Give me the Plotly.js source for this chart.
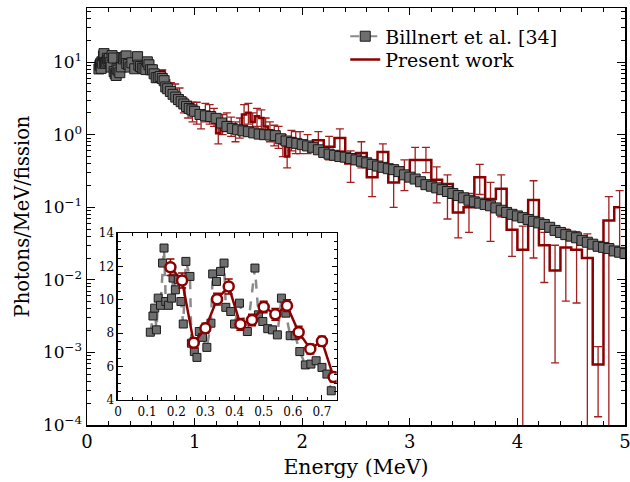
<!DOCTYPE html>
<html><head><meta charset="utf-8">
<script src="https://cdn.plot.ly/plotly-3.0.1.min.js"></script>
<style>html,body{margin:0;padding:0;background:#fff}</style>
</head><body>
<div id="chart" style="width:630px;height:482px"></div>
<script>
// ---- Billnert et al. [34] ----
var billLowX = [0.111,0.120,0.126,0.132,0.138,0.146,0.153,0.158,0.164,0.173,0.184,0.189,0.197,0.207,0.216,0.224,0.233,0.247,0.252,0.262,0.271,0.279,0.290,0.305,0.319,0.325,0.338,0.352,0.364,0.370,0.387,0.400,0.417,0.444,0.470,0.482,0.497,0.514,0.530,0.547,0.561,0.576,0.591,0.608,0.624,0.643,0.662,0.680,0.700,0.717,0.732];
var billLowY = [8.06,9.03,9.5,8.2,10.1,9.67,12.2,13.1,9.9,9.67,10.1,11.3,10.6,11.2,9.9,8.55,12.3,11.4,7.4,6.9,6.55,8.1,7.75,7.15,8.6,11.55,11.1,11.7,12.2,9.55,9.3,8.55,9.8,8.1,11.9,9.1,8.7,8.27,8.2,7.9,10.1,9.2,7.85,7.85,6.9,6.1,6.15,6.35,5.95,5.55,4.55];
var billHighX = [0.75,0.775,0.80,0.825,0.85,0.875,0.90,0.925,0.95,0.975,1.00,1.05,1.10,1.15,1.20,1.25,1.30,1.35,1.40,1.45,1.50,1.55,1.60,1.65,1.70,1.75,1.80,1.85,1.90,1.95,2.00,2.05,2.10,2.15,2.20,2.25,2.30,2.35,2.40,2.45,2.50,2.55,2.60,2.65,2.70,2.75,2.80,2.85,2.90,2.95,3.00,3.05,3.10,3.15,3.20,3.25,3.30,3.35,3.40,3.45,3.50,3.55,3.60,3.65,3.70,3.75,3.80,3.85,3.90,3.95,4.00,4.05,4.10,4.15,4.20,4.25,4.30,4.35,4.40,4.45,4.50,4.55,4.60,4.65,4.70,4.75,4.80,4.85,4.90,4.95,5.00];
var billHighY = [4.3,3.95,3.6,3.3,3.05,2.85,2.65,2.45,2.3,2.2,2.1,1.9,1.82,1.78,1.68,1.45,1.3,1.22,1.17,1.13,1.1,1.06,1.02,1.0,0.99,0.97,0.88,0.82,0.78,0.76,0.73,0.70,0.67,0.62,0.57,0.54,0.52,0.50,0.49,0.47,0.45,0.43,0.41,0.39,0.37,0.355,0.34,0.33,0.31,0.28,0.26,0.245,0.225,0.205,0.195,0.185,0.175,0.165,0.155,0.145,0.135,0.125,0.119,0.114,0.109,0.105,0.098,0.091,0.085,0.080,0.076,0.072,0.068,0.064,0.061,0.058,0.053,0.048,0.045,0.042,0.040,0.038,0.035,0.033,0.031,0.029,0.028,0.027,0.025,0.024,0.023];

// ---- Present work (bin centres, values, error-bar ends) ----
var presX = [0.18,0.22,0.26,0.30,0.34,0.38,0.42,0.46,0.50,0.54,0.58,0.62,0.66,0.70,0.74,
  0.78,0.82,0.86,0.90,0.94,0.98,1.02,1.06,1.10,1.14,1.18,1.22,1.26,1.30,1.34,1.38,1.42,1.46,1.50,1.54,1.58,1.62,1.66,1.70,1.74,1.78,1.82,1.86,1.90,1.94,1.98,
  2.05,2.15,2.25,2.35,2.45,2.55,2.65,2.75,2.85,2.95,3.05,3.15,3.25,3.35,3.45,3.55,3.65,3.75,3.85,3.95,4.05,4.15,4.25,4.35,4.45,4.55,4.65,4.75,4.85,4.95];
var presY = [11.95,11.15,7.42,8.29,10.04,10.8,8.53,8.79,9.57,9.13,9.65,8.06,7.06,7.52,5.37,
  4.2,3.8,3.5,2.6,2.3,2.1,2.0,1.7,2.0,1.9,1.7,1.05,1.4,1.5,1.3,1.15,1.3,1.9,2.0,1.5,1.8,1.7,1.3,1.15,1.0,0.95,0.75,0.5,0.9,0.85,0.8,
  0.75,0.84,0.68,0.90,0.40,0.56,0.26,0.58,0.22,0.30,0.45,0.45,0.24,0.21,0.085,0.10,0.26,0.13,0.18,0.049,0.026,0.126,0.030,0.0135,0.028,0.026,0.020,0.00068,0.066,0.10];
var presHi = [12.45,11.6,7.72,8.59,10.39,11.25,8.88,9.14,9.92,9.48,10.0,8.41,7.36,7.82,5.67,
  5.2,5.0,4.4,3.2,2.9,2.8,2.8,2.2,2.7,2.6,2.3,1.4,1.9,2.0,1.75,1.5,1.7,2.6,2.7,2.0,2.3,2.2,1.7,1.5,1.35,1.3,1.0,0.7,1.15,1.1,1.1,
  1.0,1.1,0.95,1.2,0.6,0.8,0.4,0.75,0.36,0.45,0.67,0.67,0.36,0.28,0.15,0.155,0.39,0.22,0.28,0.07,0.055,0.232,0.045,0.03,0.05,0.046,0.043,0.0012,0.14,0.17];
var presLo = [11.45,10.7,7.12,7.99,9.69,10.35,8.18,8.44,9.22,8.78,9.3,7.71,6.76,7.22,5.07,
  3.4,2.9,2.7,2.0,1.7,1.5,1.4,1.2,1.5,1.4,1.3,0.75,1.0,1.1,0.95,0.8,0.9,1.35,1.4,1.05,1.3,1.2,0.9,0.8,0.7,0.65,0.5,0.35,0.6,0.55,0.55,
  0.55,0.6,0.45,0.6,0.22,0.35,0.14,0.32,0.1,0.17,0.25,0.3,0.115,0.069,0.038,0.045,0.15,0.034,0.074,0.021,0,0.020,0.0092,0.00072,0.0051,0.0048,0,0.00013,0,0.021];

// inset uses the low-energy part of the present work
var insetN = 15;

// ---- tick labels ----
var yTickVals = [1e-4,1e-3,1e-2,1e-1,1,10];
var yTickText = ['10<sup>\u22124</sup>','10<sup>\u22123</sup>','10<sup>\u22122</sup>','10<sup>\u22121</sup>','10<sup>0</sup>','10<sup>1</sup>'];
var xTickVals = [0,1,2,3,4,5];
var insXTickVals = [0,0.1,0.2,0.3,0.4,0.5,0.6,0.7];
var insXTickText = ['0','0.1','0.2','0.3','0.4','0.5','0.6','0.7'];
var insYTickVals = [4,6,8,10,12,14];

var RED = '#8b0000';
var FONT = 'DejaVu Serif, serif';

var errPlus = presY.map(function(v,i){return presHi[i]-v;});
var errMinus = presY.map(function(v,i){return v-presLo[i];});

var minorY = [];
for (var d=-4; d<=1; d++) for (var m=2; m<=9; m++) minorY.push(m*Math.pow(10,d));

var traces = [
 {x: presX, y: presY, type:'scatter', mode:'lines', name:'Present work', legend:'legend2',
  line:{color:RED, width:2.5, shape:'hvh'},
  error_y:{type:'data', symmetric:false, array:errPlus, arrayminus:errMinus, color:'#a02020', thickness:1.3, width:4}},
 {x: billLowX.concat(billHighX), y: billLowY.concat(billHighY), type:'scatter', mode:'lines+markers', name:'Billnert et al. [34]', legend:'legend',
  line:{color:'#8a8a8a', width:2, dash:'dash'},
  marker:{symbol:'square', size:10, color:'#6e6e6e', line:{color:'#1a1a1a', width:1}}},
 {x: billLowX, y: billLowY, xaxis:'x2', yaxis:'y2', type:'scatter', mode:'lines+markers', showlegend:false,
  line:{color:'#8a8a8a', width:2.5, dash:'dash'},
  marker:{symbol:'square', size:8, color:'#6e6e6e', line:{color:'#1a1a1a', width:1}}},
 {x: presX.slice(0,insetN), y: presY.slice(0,insetN), xaxis:'x2', yaxis:'y2', type:'scatter', mode:'lines+markers', showlegend:false,
  line:{color:RED, width:2.5},
  marker:{symbol:'circle', size:10, color:'#ffffff', line:{color:RED, width:2.5}},
  error_y:{type:'data', symmetric:false, array:errPlus.slice(0,insetN), arrayminus:errMinus.slice(0,insetN), color:RED, thickness:1.5, width:4}}
];

var axCommon = {showline:true, linecolor:'#000', linewidth:1.5, mirror:'allticks', ticks:'inside', tickcolor:'#000', showgrid:false, zeroline:false, ticklabeloverflow:'allow'};
var legCommon = {xanchor:'left', yanchor:'middle', bgcolor:'rgba(0,0,0,0)', font:{family:FONT, size:19}, borderwidth:0};

var layout = {
  width:630, height:482,
  margin:{l:87, r:5, t:8, b:57},
  paper_bgcolor:'#fff', plot_bgcolor:'#fff',
  font:{family:FONT, color:'#000', size:17},
  showlegend:true,
  legend: Object.assign({}, legCommon, {x:0.48, y:0.932}),
  legend2: Object.assign({}, legCommon, {x:0.48, y:0.876}),
  xaxis: Object.assign({}, axCommon, {range:[0,5], tickmode:'array', tickvals:xTickVals, ticklen:7,
     minor:{ticks:'inside', dtick:0.2, tick0:0, ticklen:4, tickcolor:'#000'},
     tickfont:{size:18}, title:{text:'Energy (MeV)', font:{size:20.5}, standoff:8}}),
  yaxis: Object.assign({}, axCommon, {type:'log', range:[-4,1.746], tickmode:'array', tickvals:yTickVals, ticktext:yTickText, ticklen:8,
     minor:{ticks:'inside', tickmode:'array', tickvals:minorY, ticklen:4, tickcolor:'#000'},
     tickfont:{size:17}, title:{text:'Photons/MeV/fission', font:{size:19.5}, standoff:8}}),
  xaxis2: Object.assign({}, axCommon, {domain:[0.0576,0.4638], anchor:'y2', range:[0,0.75], tickmode:'array', tickvals:insXTickVals, ticktext:insXTickText, ticklen:5,
     minor:{ticks:'inside', dtick:0.05, tick0:0, ticklen:3, tickcolor:'#000'}, tickfont:{size:12}}),
  yaxis2: Object.assign({}, axCommon, {domain:[0.06,0.4604], anchor:'x2', range:[4,14], tickmode:'array', tickvals:insYTickVals, ticklen:5,
     minor:{ticks:'inside', dtick:0.5, tick0:4, ticklen:3, tickcolor:'#000'}, tickfont:{size:12}})
};

Plotly.newPlot('chart', traces, layout, {displayModeBar:false, staticPlot:true});
</script>
</body></html>
